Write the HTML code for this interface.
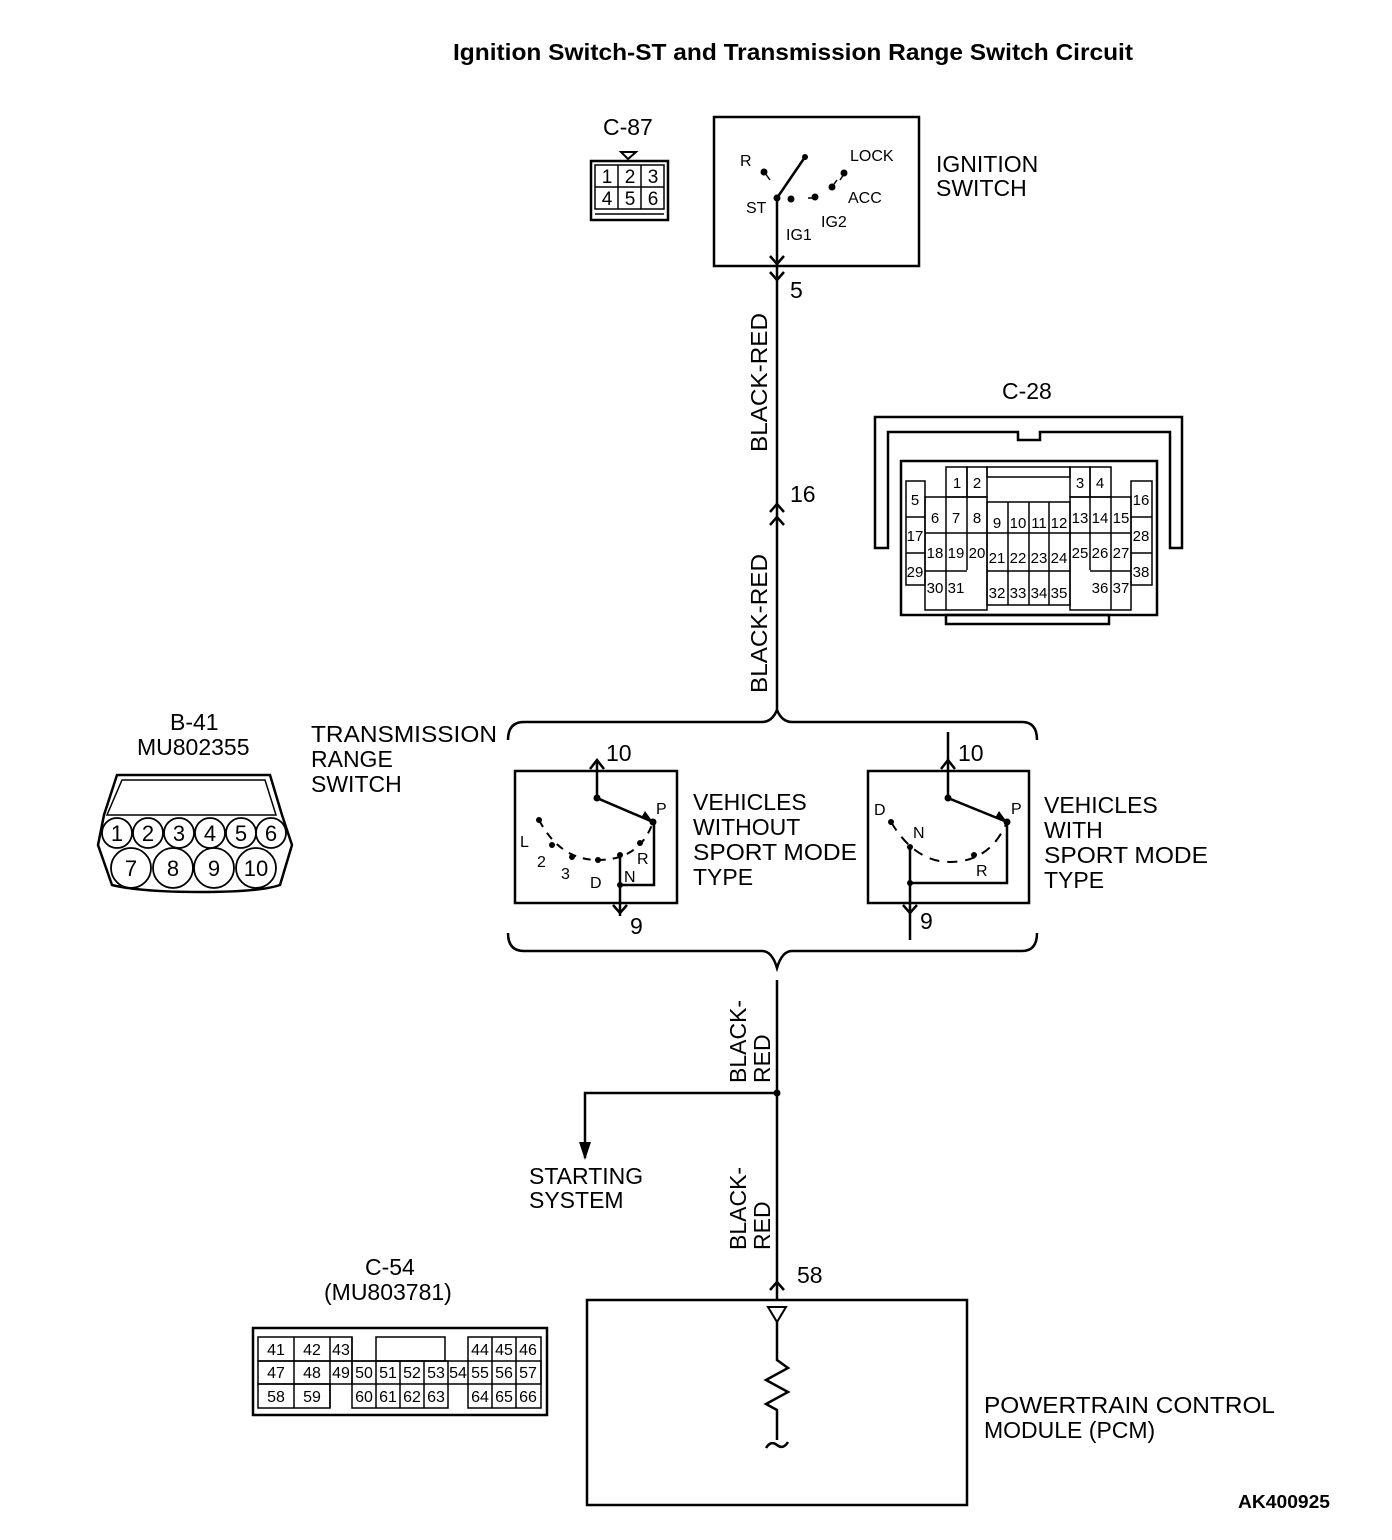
<!DOCTYPE html>
<html><head><meta charset="utf-8"><style>
html,body{margin:0;padding:0;background:#fff}
svg{display:block}
text{font-family:"Liberation Sans",sans-serif;fill:#000}
</style></head><body>
<svg width="1392" height="1540" viewBox="0 0 1392 1540" xmlns="http://www.w3.org/2000/svg">
<g fill="none" stroke="#000" stroke-width="2.5">
<rect x="714" y="117" width="205" height="149"/>
<line x1="777" y1="198" x2="777" y2="300"/>
<line x1="777" y1="198" x2="805" y2="157"/>
<polyline points="770,256 777,264 784,256"/>
<polyline points="770,272 777,280 784,272"/>
<line x1="765" y1="173" x2="770" y2="180" stroke-width="1.5"/>
<line x1="832" y1="187" x2="837" y2="180" stroke-width="1.5"/>
<line x1="815" y1="198" x2="808" y2="198" stroke-width="1.5"/>
<line x1="844" y1="174" x2="840" y2="180" stroke-width="1.5"/>
<line x1="777" y1="300" x2="777" y2="712"/>
<polyline points="770,512 777,504 784,512"/>
<polyline points="770,525 777,517 784,525"/>
<rect x="591" y="161" width="77" height="59"/>
<rect x="595" y="165" width="69" height="44" stroke-width="1.5"/>
<line x1="595" y1="214" x2="664" y2="214" stroke-width="1.5"/>
<line x1="618" y1="165" x2="618" y2="209" stroke-width="1.5"/>
<line x1="641" y1="165" x2="641" y2="209" stroke-width="1.5"/>
<line x1="595" y1="187" x2="664" y2="187" stroke-width="1.5"/>
<polygon points="621,152 636,152 628,159" stroke-width="2"/>
<path d="M875,548 V417 H1182 V548 H1170 V432 H1040 V440 H1018 V432 H888 V548 Z" stroke-width="2.5"/>
<rect x="901" y="461" width="256" height="154"/>
<rect x="946" y="615" width="163" height="9"/>
</g>
<g fill="none" stroke="#000" stroke-width="1.5">
<rect x="946" y="467" width="21" height="30"/><rect x="967" y="467" width="20" height="30"/>
<rect x="987" y="467" width="83" height="10"/>
<rect x="1070" y="467" width="20" height="30"/><rect x="1090" y="467" width="21" height="30"/>
<rect x="906" y="481" width="19" height="104"/>
<line x1="906" y1="517" x2="925" y2="517"/><line x1="906" y1="553" x2="925" y2="553"/>
<rect x="1131" y="481" width="21" height="104"/>
<line x1="1131" y1="517" x2="1152" y2="517"/><line x1="1131" y1="553" x2="1152" y2="553"/>
<rect x="925" y="497" width="62" height="113"/>
<line x1="946" y1="497" x2="946" y2="610"/><line x1="967" y1="497" x2="967" y2="570"/>
<line x1="925" y1="533" x2="987" y2="533"/><line x1="925" y1="571" x2="967" y2="571"/>
<rect x="987" y="502" width="83" height="103"/>
<line x1="1008" y1="502" x2="1008" y2="605"/><line x1="1029" y1="502" x2="1029" y2="605"/><line x1="1049" y1="502" x2="1049" y2="605"/>
<line x1="987" y1="533" x2="1070" y2="533"/><line x1="987" y1="571" x2="1070" y2="571"/>
<rect x="1070" y="497" width="61" height="113"/>
<line x1="1090" y1="497" x2="1090" y2="570"/><line x1="1111" y1="497" x2="1111" y2="610"/>
<line x1="1070" y1="533" x2="1131" y2="533"/><line x1="1090" y1="571" x2="1131" y2="571"/>
</g>
<g font-size="15" text-anchor="middle">
<text x="957" y="488">1</text><text x="977" y="488">2</text><text x="1080" y="488">3</text><text x="1100" y="488">4</text>
<text x="915" y="505">5</text><text x="1141" y="505">16</text>
<text x="935" y="523">6</text><text x="956" y="523">7</text><text x="977" y="523">8</text>
<text x="997" y="528">9</text><text x="1018" y="528">10</text><text x="1039" y="528">11</text><text x="1059" y="528">12</text>
<text x="1080" y="523">13</text><text x="1100" y="523">14</text><text x="1121" y="523">15</text>
<text x="915" y="541">17</text><text x="1141" y="541">28</text>
<text x="935" y="558">18</text><text x="956" y="558">19</text><text x="977" y="558">20</text>
<text x="997" y="563">21</text><text x="1018" y="563">22</text><text x="1039" y="563">23</text><text x="1059" y="563">24</text>
<text x="1080" y="558">25</text><text x="1100" y="558">26</text><text x="1121" y="558">27</text>
<text x="915" y="577">29</text><text x="1141" y="577">38</text>
<text x="935" y="593">30</text><text x="956" y="593">31</text>
<text x="997" y="598">32</text><text x="1018" y="598">33</text><text x="1039" y="598">34</text><text x="1059" y="598">35</text>
<text x="1100" y="593">36</text><text x="1121" y="593">37</text>
</g>
<g fill="none" stroke="#000" stroke-width="2.5">
<path d="M508,740 Q508,722 524,722 H762 Q772,722 777,710 Q782,722 792,722 H1022 Q1037,722 1037,740"/>
<path d="M508,933 Q508,951 524,951 H762 Q772,951 777,968 Q782,951 792,951 H1022 Q1037,951 1037,933"/>
<rect x="515" y="771" width="162" height="132"/>
<polyline points="597,760 597,798 653,822"/>
<polyline points="590,769 597,760 604,769"/>
<polyline points="620,855 620,916"/>
<polyline points="613,905 620,913 627,905"/>
<polyline points="620,885 654,885 654,822"/>
<path d="M539,820 Q560,860 598,860 Q640,860 653,822" stroke-dasharray="8,7" stroke-width="2"/>
<rect x="868" y="771" width="161" height="132"/>
<polyline points="948,732 948,798 1007,822"/>
<polyline points="941,769 948,760 955,769"/>
<line x1="910" y1="847" x2="910" y2="940"/>
<polyline points="903,905 910,913 917,905"/>
<polyline points="910,883 1007,883 1007,822"/>
<path d="M891,822 Q915,862 950,862 Q990,862 1007,822" stroke-dasharray="10,8" stroke-width="2"/>
<line x1="777" y1="980" x2="777" y2="1300"/>
<polyline points="585,1158 585,1093 777,1093"/>
<polyline points="770,1290 777,1282 784,1290"/>
<rect x="587" y="1300" width="380" height="205"/>
<polygon points="768,1307 786,1307 777,1322" stroke-width="2"/>
<polyline points="777,1322 777,1360 788,1368 766,1380 788,1392 766,1404 777,1410 777,1440"/>
<path d="M766,1448 Q771,1440 777,1445 Q783,1450 788,1442"/>
<path d="M117,775 H270 L282,815 L292,845 L280,885 Q260,892 200,892 Q140,892 112,885 L98,845 L104,815 Z"/>
<path d="M122,780 H265 L276,815 H107 Z" stroke-width="1.5"/>
<rect x="253" y="1328" width="294" height="87"/>
</g>
<g fill="#000">
<circle cx="777" cy="198" r="3.5"/><circle cx="805" cy="157" r="3"/><circle cx="764" cy="172" r="3.5"/>
<circle cx="844" cy="173" r="3.5"/><circle cx="832" cy="187" r="3.5"/><circle cx="791" cy="199" r="3.5"/><circle cx="815" cy="197" r="3.5"/>
<circle cx="597" cy="798" r="3.5"/><circle cx="653" cy="822" r="3.5"/><circle cx="539" cy="820" r="3"/><circle cx="552" cy="845" r="3"/>
<circle cx="572" cy="857" r="3"/><circle cx="598" cy="860" r="3"/><circle cx="620" cy="855" r="3"/><circle cx="640" cy="843" r="3"/><circle cx="620" cy="885" r="3"/>
<circle cx="948" cy="798" r="3.5"/><circle cx="1007" cy="822" r="3.5"/><circle cx="891" cy="822" r="3"/><circle cx="910" cy="847" r="3"/><circle cx="974" cy="855" r="3"/><circle cx="910" cy="883" r="3"/>
<circle cx="777" cy="1093" r="3.5"/>
<polygon points="579,1142 591,1142 585,1160"/>
<polygon points="641,818 653,822 645,811"/><polygon points="995,818 1007,822 999,811"/>
</g>
<g fill="none" stroke="#000" stroke-width="1.8">
<circle cx="117" cy="833" r="15"/><circle cx="148" cy="833" r="15"/><circle cx="179" cy="833" r="15"/><circle cx="210" cy="833" r="15"/><circle cx="241" cy="833" r="15"/><circle cx="271" cy="833" r="15"/>
<circle cx="131" cy="868" r="20"/><circle cx="173" cy="868" r="20"/><circle cx="214" cy="868" r="20"/><circle cx="256" cy="868" r="20"/>
</g>
<g font-size="22" text-anchor="middle">
<text x="117" y="841">1</text><text x="148" y="841">2</text><text x="179" y="841">3</text><text x="210" y="841">4</text><text x="241" y="841">5</text><text x="271" y="841">6</text>
<text x="131" y="876">7</text><text x="173" y="876">8</text><text x="214" y="876">9</text><text x="256" y="876">10</text>
</g>
<g fill="none" stroke="#000" stroke-width="1.5">
<rect x="258" y="1337" width="94" height="24"/><line x1="294" y1="1337" x2="294" y2="1408"/><line x1="330" y1="1337" x2="330" y2="1408"/>
<rect x="258" y="1361" width="283" height="23"/>
<rect x="258" y="1384" width="72" height="24"/>
<rect x="376" y="1337" width="69" height="24"/>
<rect x="468" y="1337" width="73" height="71"/>
<line x1="492" y1="1337" x2="492" y2="1408"/><line x1="516" y1="1337" x2="516" y2="1408"/>
<line x1="352" y1="1337" x2="352" y2="1384"/>
<rect x="352" y="1361" width="96" height="47"/>
<line x1="376" y1="1361" x2="376" y2="1408"/><line x1="400" y1="1361" x2="400" y2="1408"/><line x1="424" y1="1361" x2="424" y2="1408"/>
</g>
<g font-size="16" text-anchor="middle">
<text x="276" y="1355">41</text><text x="312" y="1355">42</text><text x="341" y="1355">43</text><text x="480" y="1355">44</text><text x="504" y="1355">45</text><text x="528" y="1355">46</text>
<text x="276" y="1378">47</text><text x="312" y="1378">48</text><text x="341" y="1378">49</text><text x="364" y="1378">50</text><text x="388" y="1378">51</text><text x="412" y="1378">52</text><text x="436" y="1378">53</text><text x="458" y="1378">54</text><text x="480" y="1378">55</text><text x="504" y="1378">56</text><text x="528" y="1378">57</text>
<text x="276" y="1402">58</text><text x="312" y="1402">59</text><text x="364" y="1402">60</text><text x="388" y="1402">61</text><text x="412" y="1402">62</text><text x="436" y="1402">63</text><text x="480" y="1402">64</text><text x="504" y="1402">65</text><text x="528" y="1402">66</text>
</g>
<g font-size="19" text-anchor="middle">
<text x="607" y="183">1</text><text x="630" y="183">2</text><text x="653" y="183">3</text>
<text x="607" y="205">4</text><text x="630" y="205">5</text><text x="653" y="205">6</text>
</g>
<text x="793" y="60" font-size="23" font-weight="bold" text-anchor="middle" textLength="680" lengthAdjust="spacingAndGlyphs">Ignition Switch-ST and Transmission Range Switch Circuit</text>
<g font-size="23">
<text x="603" y="135">C-87</text>
<text x="936" y="172">IGNITION</text><text x="936" y="196">SWITCH</text>
<text x="790" y="298">5</text>
<text x="790" y="502">16</text>
<text x="1002" y="399">C-28</text>
<text x="170" y="730">B-41</text><text x="137" y="755">MU802355</text>
<text x="311" y="742" textLength="186" lengthAdjust="spacingAndGlyphs">TRANSMISSION</text><text x="311" y="767">RANGE</text><text x="311" y="792">SWITCH</text>
<text x="606" y="761">10</text><text x="958" y="761">10</text>
<text x="630" y="934">9</text><text x="920" y="929">9</text>
<text x="693" y="810">VEHICLES</text><text x="693" y="835">WITHOUT</text><text x="693" y="860" textLength="164" lengthAdjust="spacingAndGlyphs">SPORT MODE</text><text x="693" y="885">TYPE</text>
<text x="1044" y="813">VEHICLES</text><text x="1044" y="838">WITH</text><text x="1044" y="863" textLength="164" lengthAdjust="spacingAndGlyphs">SPORT MODE</text><text x="1044" y="888">TYPE</text>
<text x="529" y="1184">STARTING</text><text x="529" y="1208">SYSTEM</text>
<text x="797" y="1283">58</text>
<text x="365" y="1275">C-54</text><text x="324" y="1300">(MU803781)</text>
<text x="984" y="1413" textLength="291" lengthAdjust="spacingAndGlyphs">POWERTRAIN CONTROL</text><text x="984" y="1438">MODULE (PCM)</text>
</g>
<g font-size="16">
<text x="740" y="166">R</text><text x="850" y="161">LOCK</text><text x="746" y="213">ST</text><text x="848" y="203">ACC</text><text x="821" y="227">IG2</text><text x="786" y="240">IG1</text>
<text x="520" y="847">L</text><text x="537" y="867">2</text><text x="561" y="879">3</text><text x="590" y="888">D</text><text x="624" y="882">N</text><text x="637" y="864">R</text><text x="656" y="814">P</text>
<text x="874" y="815">D</text><text x="913" y="838">N</text><text x="976" y="876">R</text><text x="1011" y="814">P</text>
</g>
<g font-size="23">
<text transform="translate(767,452) rotate(-90)" textLength="139" lengthAdjust="spacingAndGlyphs">BLACK-RED</text>
<text transform="translate(767,693) rotate(-90)" textLength="139" lengthAdjust="spacingAndGlyphs">BLACK-RED</text>
<text transform="translate(746,1083) rotate(-90)">BLACK-</text><text transform="translate(770,1083) rotate(-90)">RED</text>
<text transform="translate(746,1250) rotate(-90)">BLACK-</text><text transform="translate(770,1250) rotate(-90)">RED</text>
</g>
<text x="1238" y="1508" font-size="18" font-weight="bold" textLength="92" lengthAdjust="spacingAndGlyphs">AK400925</text>
</svg>
</body></html>
